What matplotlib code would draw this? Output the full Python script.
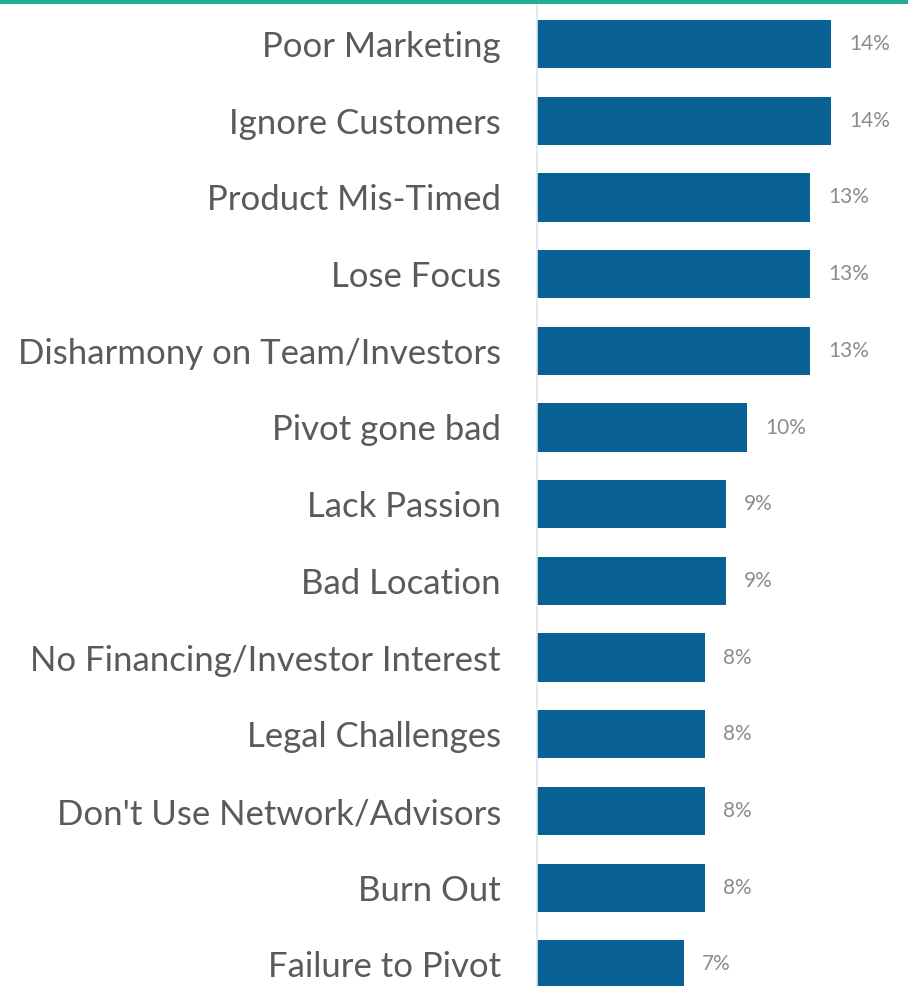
import matplotlib
matplotlib.use("Agg")
import matplotlib.pyplot as plt
from matplotlib.patches import Rectangle

categories = ["Poor Marketing", "Ignore Customers", "Product Mis-Timed", "Lose Focus",
              "Disharmony on Team/Investors", "Pivot gone bad", "Lack Passion",
              "Bad Location", "No Financing/Investor Interest", "Legal Challenges",
              "Don't Use Network/Advisors", "Burn Out", "Failure to Pivot"]
values = [14, 14, 13, 13, 13, 10, 9, 9, 8, 8, 8, 8, 7]
value_labels = ["14%", "14%", "13%", "13%", "13%", "10%", "9%", "9%", "8%", "8%", "8%", "8%", "7%"]

W, H = 908, 986
fig = plt.figure(figsize=(W / 100, H / 100), dpi=100)
fig.patch.set_facecolor("white")

left = 537 / W
ax = fig.add_axes([left, 0, 1 - left, (H - 4) / H])
px_per_unit = 21.0
ax.set_xlim(0, (W - 537) / px_per_unit)
spacing = 76.7
y0 = 44
ax.set_ylim((H - y0) / spacing, (4 - y0) / spacing)

pos = list(range(len(categories)))
ax.barh(pos, values, height=0.63, color="#0a6196", edgecolor="none", zorder=2)
for p, v, lab in zip(pos, values, value_labels):
    ax.text(v + 0.85, p, lab, va="center", ha="left", fontsize=15,
            color="#8c8c8c", family="Lato")

ax.set_yticks(pos)
ax.set_yticklabels(categories, fontsize=25, color="#5a5a5a", family="Lato")
ax.tick_params(axis="y", length=0, pad=26)
ax.set_xticks([])
for s in ["top", "right", "bottom"]:
    ax.spines[s].set_visible(False)
ax.spines["left"].set_color("#dbe7ec")
ax.spines["left"].set_linewidth(1.2)

fig.patches.append(Rectangle((0, 1 - 4 / H), 1, 4 / H, transform=fig.transFigure,
                             facecolor="#1fae96", edgecolor="none", zorder=5))

fig.savefig("out.png", dpi=100, facecolor="white")
